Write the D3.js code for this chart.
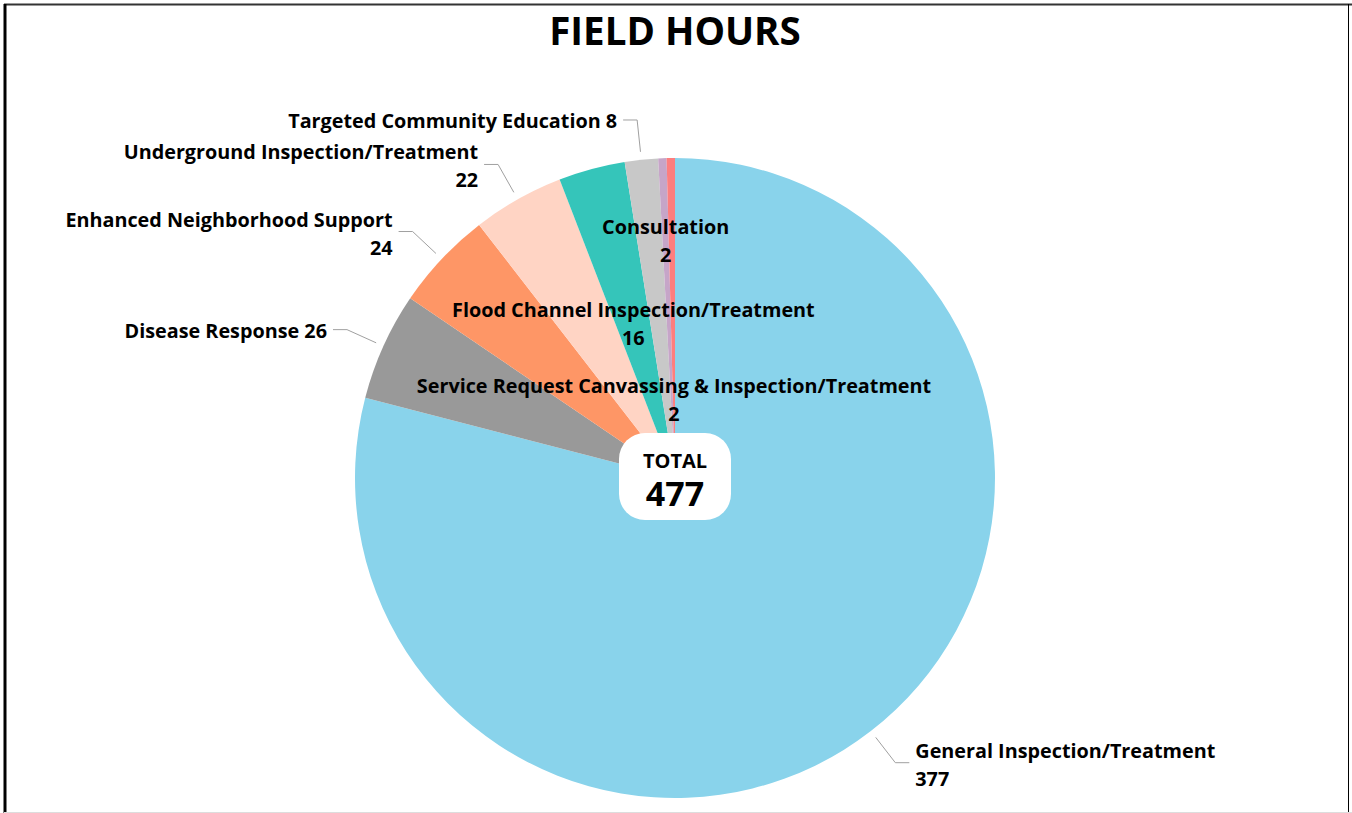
<!DOCTYPE html>
<html>
<head>
<meta charset="utf-8">
<script src="https://cdn.jsdelivr.net/npm/d3@7"></script>
<style>
  body { margin: 0; background: #fff; }
  text { font-family: 'Open Sans', 'Noto Sans', sans-serif; font-weight: 700; fill: #000; }
</style>
</head>
<body>
<script>
const categories = [
  'General Inspection/Treatment',
  'Disease Response',
  'Enhanced Neighborhood Support',
  'Underground Inspection/Treatment',
  'Flood Channel Inspection/Treatment',
  'Targeted Community Education',
  'Consultation',
  'Service Request Canvassing & Inspection/Treatment'
]
const values = [377, 26, 24, 22, 16, 8, 2, 2]
const colors = ['#89d3eb', '#999999', '#fe9666', '#ffd4c4', '#35c5ba', '#c8c8c8', '#c6a5c8', '#fd7e7e']

// how Power BI placed each label: outside in 1 or 2 lines, or inside at a fraction of the radius
const labelMode = ['out2', 'out1', 'out2', 'out2', 'in', 'out1', 'in', 'in']
const insideR = [0, 0, 0, 0, 0.5, 0, 0.74, 0.245]

const width = 1352, height = 813
const cx = 675, cy = 478, r = 320
const lineH = 28
const labelSize = '19.8px'

const data = categories.map((c, i) => ({ name: c, value: values[i], color: colors[i], mode: labelMode[i], fr: insideR[i] }))
const total = d3.sum(values)

const svg = d3.select('body').append('svg')
    .attr('width', width)
    .attr('height', height)

// frame
svg.append('line').attr('x1', 4).attr('x2', width).attr('y1', 4.5).attr('y2', 4.5)
    .attr('stroke', '#333').attr('stroke-width', 2)
svg.append('line').attr('x1', 5).attr('x2', 5).attr('y1', 4).attr('y2', height)
    .attr('stroke', '#000').attr('stroke-width', 3)
svg.append('line').attr('x1', 1348.5).attr('x2', 1348.5).attr('y1', 4).attr('y2', height)
    .attr('stroke', '#000').attr('stroke-width', 1)
svg.append('line').attr('x1', 4).attr('x2', width).attr('y1', 812.5).attr('y2', 812.5)
    .attr('stroke', '#ddd').attr('stroke-width', 1)

svg.append('text')
    .attr('x', cx)
    .attr('y', 32)
    .attr('dy', '0.35em')
    .attr('text-anchor', 'middle')
    .style('font-size', '38.5px')
    .text('FIELD HOURS')

const pie = d3.pie().sort(null).value(d => d.value)
const arc = d3.arc().innerRadius(0).outerRadius(r)
const arcs = pie(data)

const g = svg.append('g').attr('transform', 'translate(' + cx + ',' + cy + ')')

g.selectAll('path.slice')
  .data(arcs)
  .enter().append('path')
    .attr('class', 'slice')
    .attr('d', arc)
    .attr('fill', d => d.data.color)

function mid(d) { return (d.startAngle + d.endAngle) / 2 }
function pt(a, rad) { return [Math.sin(a) * rad, -Math.cos(a) * rad] }

// outside labels
arcs.filter(d => d.data.mode !== 'in').forEach(function(d) {
  const a = mid(d)
  const p0 = pt(a, r + 8), p1 = pt(a, r + 40)
  const side = Math.sin(a) < 0 ? -1 : 1
  const p2 = [p1[0] + side * 14, p1[1]]
  g.append('polyline')
      .attr('points', [p0, p1, p2].map(p => p.join(',')).join(' '))
      .attr('fill', 'none')
      .attr('stroke', '#a0a0a0')
      .attr('stroke-width', 1)
  const tx = p2[0] + side * 6
  const t = g.append('text')
      .attr('x', tx)
      .attr('y', p1[1])
      .attr('text-anchor', side < 0 ? 'end' : 'start')
      .style('font-size', labelSize)
  if (d.data.mode === 'out1') {
    t.append('tspan').attr('dy', '0.4em').text(d.data.name + ' ' + d.data.value)
  } else {
    t.append('tspan').attr('x', tx).attr('dy', '-5px').text(d.data.name)
    t.append('tspan').attr('x', tx).attr('dy', lineH + 'px').text(d.data.value)
  }
})

// inside labels
arcs.filter(d => d.data.mode === 'in').forEach(function(d) {
  const p = pt(mid(d), r * d.data.fr)
  const t = g.append('text')
      .attr('text-anchor', 'middle')
      .style('font-size', labelSize)
  t.append('tspan').attr('x', p[0]).attr('y', p[1]).attr('dy', '-7px').text(d.data.name)
  t.append('tspan').attr('x', p[0]).attr('dy', lineH + 'px').text(d.data.value)
})

// total badge
g.append('rect')
    .attr('x', -56).attr('y', -45)
    .attr('width', 112).attr('height', 87)
    .attr('rx', 26)
    .attr('fill', '#fff')
g.append('text')
    .attr('y', -17)
    .attr('dy', '0.35em')
    .attr('text-anchor', 'middle')
    .style('font-size', '20px')
    .text('TOTAL')
g.append('text')
    .attr('y', 16)
    .attr('dy', '0.35em')
    .attr('text-anchor', 'middle')
    .style('font-size', '34px')
    .text(total)
</script>
</body>
</html>
